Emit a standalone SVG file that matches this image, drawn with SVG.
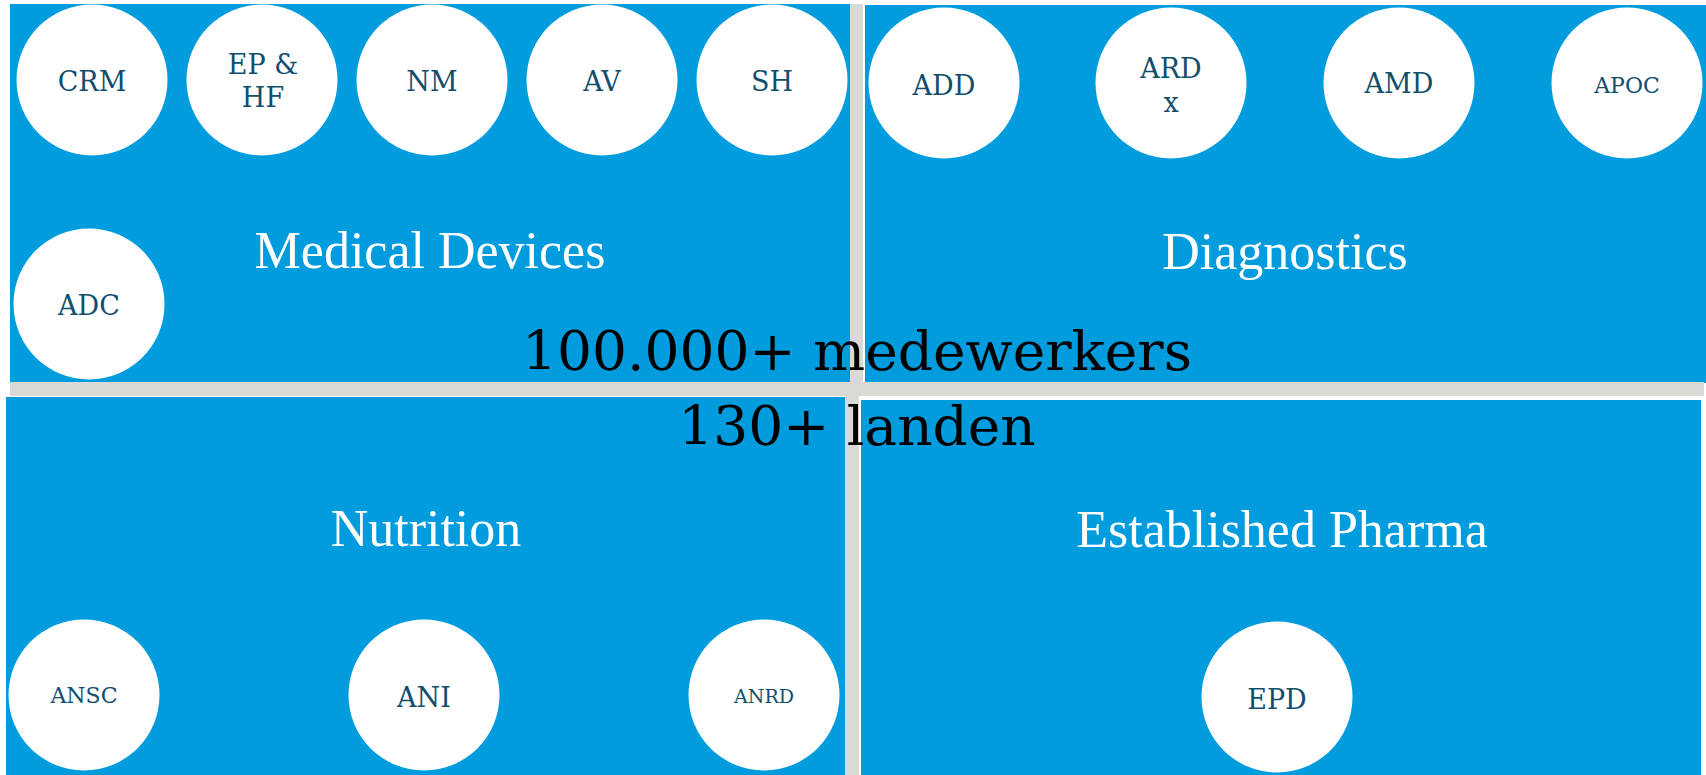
<svg xmlns="http://www.w3.org/2000/svg" width="1706" height="775" viewBox="0 0 1706 775">
<style>
.panel{fill:#009cde}
.sep{fill:#d9d9d6}
.node circle{fill:#ffffff}
.lbl{font-family:"DejaVu Serif","Liberation Serif",serif;fill:#124e6d;text-anchor:middle;font-size:27px}
.sm{font-size:22px}
.xs{font-size:19px}
.title{font-family:"Liberation Serif","DejaVu Serif",serif;fill:#ffffff;text-anchor:middle;font-size:52px}
.big{font-family:"DejaVu Serif","Liberation Serif",serif;fill:#000000;text-anchor:middle;font-size:55px}
</style>
<rect width="1706" height="775" fill="#ffffff"/>
<g id="panels">
<rect class="panel" x="10" y="4" width="840" height="378"/>
<rect class="panel" x="865" y="5" width="841" height="378"/>
<rect class="panel" x="6" y="397" width="839" height="378"/>
<rect class="panel" x="861" y="400" width="840" height="375"/>
<rect class="sep" x="10" y="382" width="1694" height="14"/>
<rect class="sep" x="850" y="4" width="13" height="378"/>
<rect class="sep" x="845" y="396" width="14" height="379"/>
</g>
<g id="titles">
<text class="title" x="430" y="268">Medical Devices</text>
<text class="title" x="1285" y="269">Diagnostics</text>
<text class="title" x="426" y="546">Nutrition</text>
<text class="title" x="1282" y="547">Established Pharma</text>
</g>
<g id="connectors"></g>
<g id="n-crm" class="node"><circle cx="92" cy="80" r="75.5"/><text class="lbl" x="92" y="91">CRM</text></g>
<g id="n-ephf" class="node"><circle cx="262" cy="80" r="75.5"/><text class="lbl" x="263" y="74">EP &amp;</text><text class="lbl" x="263" y="107">HF</text></g>
<g id="n-nm" class="node"><circle cx="432" cy="80" r="75.5"/><text class="lbl" x="432" y="91">NM</text></g>
<g id="n-av" class="node"><circle cx="602" cy="80" r="75.5"/><text class="lbl" x="602" y="91">AV</text></g>
<g id="n-sh" class="node"><circle cx="772" cy="80" r="75.5"/><text class="lbl" x="772" y="91">SH</text></g>
<g id="n-adc" class="node"><circle cx="89" cy="304" r="75.5"/><text class="lbl" x="89" y="315">ADC</text></g>
<g id="n-add" class="node"><circle cx="944" cy="83" r="75.5"/><text class="lbl" x="944" y="95">ADD</text></g>
<g id="n-ardx" class="node"><circle cx="1171" cy="83" r="75.5"/><text class="lbl" x="1171" y="78">ARD</text><text class="lbl" x="1171" y="112">x</text></g>
<g id="n-amd" class="node"><circle cx="1399" cy="83" r="75.5"/><text class="lbl" x="1399" y="93">AMD</text></g>
<g id="n-apoc" class="node"><circle cx="1627" cy="83" r="75.5"/><text class="lbl sm" x="1627" y="93">APOC</text></g>
<g id="n-ansc" class="node"><circle cx="84" cy="695" r="75.5"/><text class="lbl sm" x="84" y="703">ANSC</text></g>
<g id="n-ani" class="node"><circle cx="424" cy="695" r="75.5"/><text class="lbl" x="424" y="707">ANI</text></g>
<g id="n-anrd" class="node"><circle cx="764" cy="695" r="75.5"/><text class="lbl xs" x="764" y="703">ANRD</text></g>
<g id="n-epd" class="node"><circle cx="1277" cy="697" r="75.5"/><text class="lbl" x="1277" y="709">EPD</text></g>
<g id="center-text">
<text class="big" x="857" y="370">100.000+ medewerkers</text>
<text class="big" x="857" y="445">130+ landen</text>
</g>
</svg>
